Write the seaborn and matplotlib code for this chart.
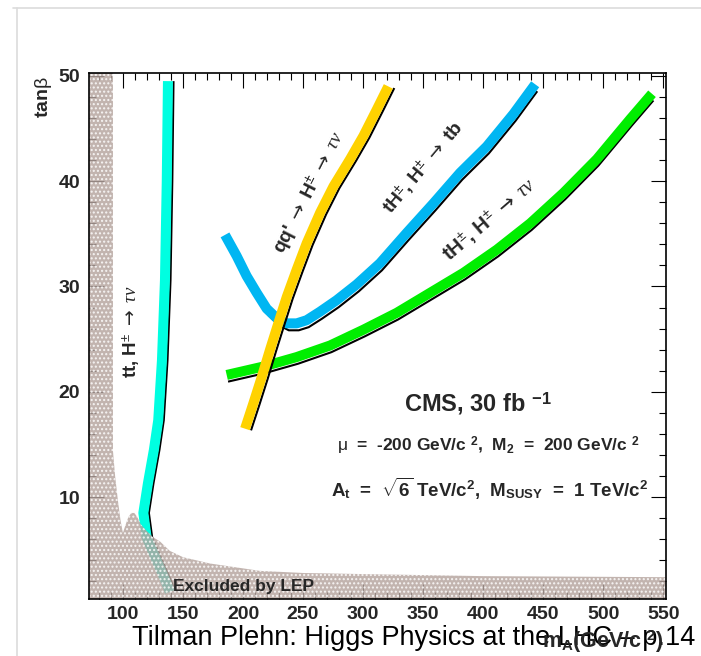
import numpy as np
import pandas as pd
import matplotlib
matplotlib.use("Agg")
import matplotlib.pyplot as plt
import matplotlib.patheffects as pe
from matplotlib.lines import Line2D
from matplotlib.ticker import MultipleLocator
import seaborn as sns

# ---------------- data ----------------
cyan_x = [137.5, 136.5, 135.0, 132.5, 129.4, 125.8, 120.8, 117.0, 119.7, 128.0, 136.4, 139.0]
cyan_y = [49.5, 40.0, 30.6, 23.0, 17.3, 14.5, 11.3, 8.5, 6.2, 4.0, 1.8, 1.0]

blue_x = [185, 194.7, 203, 211.4, 219.7, 228, 236.4, 244.7, 253, 264, 278, 294.7, 314,
          336.4, 358.6, 380.8, 403, 425.3, 443.3]
blue_y = [34.9, 32.9, 31.0, 29.4, 27.9, 27.0, 26.5, 26.5, 26.8, 27.6, 28.7, 30.2, 32.2,
          35.1, 37.9, 40.8, 43.3, 46.4, 49.2]

yellow_x = [201.7, 208.6, 215.6, 222.5, 229.4, 236.4, 244.7, 253, 264.2, 275.3, 289.2,
            300.3, 311.4, 321]
yellow_y = [16.5, 18.9, 21.4, 24.0, 26.5, 29.0, 31.6, 34.1, 37.0, 39.5, 42.1, 44.3, 46.8, 49.0]

green_x = [186.4, 216.9, 244.7, 272.5, 300.3, 328, 355.8, 383.6, 411.4, 439.2, 467, 494.7,
           522.5, 540.6]
green_y = [21.6, 22.4, 23.3, 24.4, 25.9, 27.5, 29.4, 31.3, 33.5, 36.0, 38.9, 42.1, 45.9, 48.3]

lep_x = [72, 91.7, 91.7, 93.5, 95.8, 98, 100, 102, 104.5, 107, 109.5, 112, 115, 119.7, 125,
         130.8, 139, 150, 172.5, 214, 250, 297.5, 400, 552, 552, 72]
lep_y = [50.3, 50.3, 14.4, 12.0, 9.7, 7.8, 6.6, 7.3, 8.1, 8.5, 8.5, 8.1, 7.4, 6.8, 6.2,
         5.8, 4.9, 4.3, 3.7, 3.0, 2.8, 2.7, 2.5, 2.4, 0, 0]

x_ticks = [100, 150, 200, 250, 300, 350, 400, 450, 500, 550]
y_ticks = [10, 20, 30, 40, 50]

# ---------------- style ----------------
sns.set_theme(style="ticks")
plt.rcParams["font.family"] = ["Liberation Sans", "DejaVu Sans"]
plt.rcParams["mathtext.fontset"] = "custom"
plt.rcParams["mathtext.rm"] = "Liberation Sans"
plt.rcParams["mathtext.bf"] = "Liberation Sans:bold"
plt.rcParams["mathtext.it"] = "Liberation Serif:italic"
plt.rcParams["mathtext.sf"] = "DejaVu Sans"
plt.rcParams["hatch.linewidth"] = 1.0

W, H = 701, 656
fig = plt.figure(figsize=(W / 100, H / 100), dpi=100)
fig.patch.set_facecolor("white")
ax = fig.add_axes([89.3 / W, 1 - 599.3 / H, (665.7 - 89.3) / W, (599.3 - 72.7) / H])
ax.set_facecolor("white")

# slide frame lines
fig.add_artist(Line2D([17 / W, 17 / W], [0, 1 - 8 / H], color="#dcdcdc", lw=1.2))
fig.add_artist(Line2D([13 / W, 1], [1 - 8 / H, 1 - 8 / H], color="#dcdcdc", lw=1.2))

BAND = 7.2
def curve(xs, ys, color, off, z):
    df = pd.DataFrame({"x": xs, "y": ys})
    sns.lineplot(data=df, x="x", y="y", sort=False, estimator=None, color=color,
                 linewidth=BAND, ax=ax, zorder=z, solid_capstyle="butt",
                 solid_joinstyle="round",
                 path_effects=[pe.SimpleLineShadow(offset=off, shadow_color="black",
                                                    alpha=1.0, rho=1.0, linewidth=1.5),
                               pe.Normal()])

curve(green_x, green_y, "#00ee00", (1.0, -4.8), 2.0)
curve(blue_x, blue_y, "#00b6f2", (1.5, -5.0), 2.1)
curve(yellow_x, yellow_y, "#ffd200", (4.3, -1.2), 2.2)
curve(cyan_x, cyan_y, "#00ffe1", (4.0, 0.0), 2.3)

# LEP excluded region
ax.fill(lep_x, lep_y, facecolor="#b5a49e", edgecolor="white", hatch="....",
        linewidth=0, zorder=3, alpha=0.82)

ax.set_xlim(72, 552)
ax.set_ylim(0.3, 50.3)
ax.set_xticks(x_ticks)
ax.set_yticks(y_ticks)
ax.xaxis.set_minor_locator(MultipleLocator(10))
ax.yaxis.set_minor_locator(MultipleLocator(2))
ax.tick_params(which="both", direction="in", top=True, right=True, color="black", width=0.8)
ax.tick_params(which="major", length=10.5, labelsize=14, pad=4.5)
ax.tick_params(which="minor", length=5)
ax.tick_params(axis="y", which="major", pad=6.5)
for lab in ax.get_xticklabels() + ax.get_yticklabels():
    lab.set_fontweight("bold")
for sp in ax.spines.values():
    sp.set_color("black")
    sp.set_linewidth(1.2)
    sp.set_zorder(5)
ax.set_xlabel("")
ax.set_ylabel("")

def ftext(px, py, s, **kw):
    fig.text(px / W, 1 - py / H, s, **kw)

ARR = r"$\mathsf{\rightarrow}$"

# axis titles and footer
ftext(43, 97, r"tan$\mathrm{\beta}$", rotation=90, fontsize=14, fontweight="bold",
      ha="center", va="center")
ftext(132, 645, "Tilman Plehn: Higgs Physics at the LHC – p.14", fontsize=19.5,
      ha="left", va="baseline", color="black")
ftext(664, 648, r"m$_{\mathbf{A}}$(GeV/c $^{\mathbf{2}}$)", fontsize=15.5, fontweight="bold",
      ha="right", va="baseline")

# curve labels
ftext(131, 332, r"tt, H$^{\pm}$ " + ARR + r" $\tau\nu$", rotation=90, fontsize=13.5,
      fontweight="bold", ha="center", va="center", rotation_mode="anchor")
ftext(309, 193, r"qq' " + ARR + r" H$^{\pm}$ " + ARR + r" $\tau\nu$", rotation=63,
      fontsize=14, fontweight="bold", ha="center", va="center", rotation_mode="anchor")
ftext(424, 168, r"tH$^{\pm}$, H$^{\pm}$ " + ARR + " tb", rotation=50,
      fontsize=14, fontweight="bold", ha="center", va="center", rotation_mode="anchor")
ftext(489, 219, r"tH$^{\pm}$, H$^{\pm}$ " + ARR + r" $\tau\nu$", rotation=40.5,
      fontsize=14.5, fontweight="bold", ha="center", va="center", rotation_mode="anchor")

ftext(173, 586, "Excluded by LEP", fontsize=12.5, fontweight="bold", ha="left", va="center",
      zorder=6)

# info box text
ftext(478, 411, r"CMS, 30 fb $^{\mathbf{-1}}$", fontsize=17, fontweight="bold",
      ha="center", va="baseline")
ftext(488, 451, r"$\mathrm{\mu}$  =  -200 GeV/c $^{\mathbf{2}}$,  M$_{\mathbf{2}}$  =  200 GeV/c $^{\mathbf{2}}$",
      fontsize=12.5, fontweight="bold", ha="center", va="baseline")
ftext(490, 497, r"A$_{\mathbf{t}}$  =  $\sqrt{\mathbf{6}}$ TeV/c$^{\mathbf{2}}$,  M$_{\mathbf{SUSY}}$  =  1 TeV/c$^{\mathbf{2}}$",
      fontsize=13.5, fontweight="bold", ha="center", va="baseline")

fig.savefig("out.png", dpi=100, facecolor="white")
